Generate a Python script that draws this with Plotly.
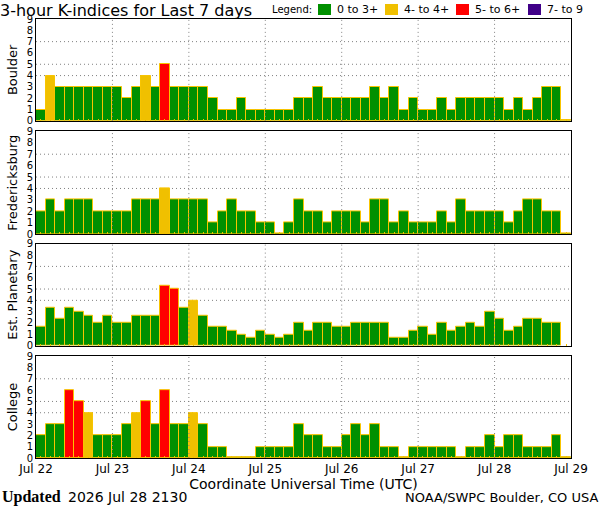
import pandas as pd
import plotly.graph_objects as go
from plotly.subplots import make_subplots

# K-index a cada 3 horas, 22 a 28 de julho (8 valores por dia)
estacoes = ["Boulder", "Fredericksburg", "Est. Planetary", "College"]

boulder = [1, 4, 3, 3, 3, 3, 3, 3, 3, 2, 3, 4, 3, 5, 3, 3,
           3, 3, 2, 1, 1, 2, 1, 1, 1, 1, 1, 2, 2, 3, 2, 2,
           2, 2, 2, 3, 2, 3, 1, 2, 1, 1, 2, 1, 2, 2, 2, 2,
           2, 1, 2, 1, 2, 3, 3, 0]

fredericksburg = [2, 3, 2, 3, 3, 3, 2, 2, 2, 2, 3, 3, 3, 4, 3, 3,
                  3, 3, 1, 2, 3, 2, 2, 1, 1, 0, 1, 3, 2, 2, 1, 2,
                  2, 2, 1, 3, 3, 1, 2, 1, 1, 1, 2, 1, 3, 2, 2, 2,
                  2, 1, 2, 3, 3, 2, 2, 0]

planetario = [1.67, 3.33, 2.33, 3.33, 3.0, 2.67, 2.0, 2.67,
              2.0, 2.0, 2.67, 2.67, 2.67, 5.33, 5.0, 3.33,
              4.0, 2.67, 1.67, 1.67, 1.33, 1.0, 0.67, 1.33,
              1.0, 0.67, 1.0, 2.0, 1.33, 2.0, 2.0, 1.67,
              1.67, 2.0, 2.0, 2.0, 2.0, 0.67, 0.67, 1.33,
              1.67, 1.0, 2.0, 1.33, 1.67, 2.0, 1.67, 3.0,
              2.33, 1.33, 1.67, 2.33, 2.33, 2.0, 2.0, None]

college = [2, 3, 3, 6, 5, 4, 2, 2, 2, 3, 4, 5, 3, 6, 3, 3,
           4, 3, 1, 1, 0, 0, 0, 1, 1, 1, 1, 3, 2, 2, 1, 1,
           2, 3, 2, 3, 1, 1, 0, 1, 1, 1, 1, 1, 0, 1, 1, 2,
           1, 2, 2, 1, 1, 1, 2, 0]

dias = ["Jul 22", "Jul 23", "Jul 24", "Jul 25", "Jul 26", "Jul 27", "Jul 28", "Jul 29"]

legenda_txt = ["0 to 3+", "4- to 4+", "5- to 6+", "7- to 9"]
legenda_cor = ["#009000", "#f0c000", "#ff0000", "#400088"]

series = [boulder, fredericksburg, planetario, college]

inicio = pd.Timestamp("2026-07-22")
horarios = pd.date_range(inicio, periods=56, freq="3h") + pd.Timedelta(minutes=90)
dias_pos = pd.date_range(inicio, periods=8, freq="D")
largura = 3 * 3600 * 1000


def cor_k(v):
    if v is None or v < 3.5:
        return legenda_cor[0]
    if v < 4.5:
        return legenda_cor[1]
    if v < 6.5:
        return legenda_cor[2]
    return legenda_cor[3]


# o grafico original desenha K=0 como uma fatia fina
def altura(v):
    if v is None:
        return None
    return max(v, 0.1)


# conversao de pixels para coordenadas do papel
L, R, T, B = 36, 29, 19, 52
W, H = 600, 510


def px_x(p):
    return (p - L) / (W - L - R)


def px_y(p):
    return (H - B - p) / (H - T - B)


fig = make_subplots(rows=4, cols=1, shared_xaxes=True)

dominios = [[0.768, 1.0], [0.51, 0.744], [0.256, 0.488], [0.0, 0.232]]
pontilhado = dict(color="#808080", width=1, dash="1px,3px")

for i, (nome, valores) in enumerate(zip(estacoes, series)):
    linha = i + 1
    fig.add_trace(
        go.Bar(
            x=horarios,
            y=[altura(v) for v in valores],
            customdata=valores,
            width=largura,
            marker_color=[cor_k(v) for v in valores],
            marker_line=dict(color="#f8c400", width=1),
            showlegend=False,
            hovertemplate=nome + " %{x}<br>K=%{customdata}<extra></extra>",
        ),
        row=linha, col=1,
    )
    for nivel in [4, 5, 7]:
        fig.add_hline(y=nivel, line=pontilhado, layer="below", row=linha, col=1)
    for d in dias_pos[1:-1]:
        fig.add_vline(x=d, line=pontilhado, layer="above", row=linha, col=1)

    fig.update_yaxes(
        domain=dominios[i],
        range=[0, 9],
        tickvals=list(range(10)),
        ticks="",
        showgrid=False,
        zeroline=False,
        automargin=False,
        showline=True, mirror=True, linecolor="black", linewidth=1,
        tickfont=dict(size=10),
        title=dict(text=nome, font=dict(size=13), standoff=6),
        row=linha, col=1,
    )
    fig.update_xaxes(
        range=[dias_pos[0], dias_pos[-1]],
        tickvals=dias_pos,
        ticktext=dias,
        ticks="",
        showticklabels=(linha == 4),
        showgrid=False,
        zeroline=False,
        automargin=False,
        showline=True, mirror=True, linecolor="black", linewidth=1,
        minor=dict(ticks="inside", ticklen=2, tickcolor="#f0c000",
                   tick0=horarios[0], dtick=largura),
        tickfont=dict(size=12),
        row=linha, col=1,
    )

fig.update_xaxes(title=dict(text="Coordinate Universal Time (UTC)", font=dict(size=14), standoff=2),
                 row=4, col=1)

anotacoes = [
    dict(text="Legend:", x=px_x(270), y=px_y(10), xanchor="left", font=dict(size=10)),
    dict(text="<b>Updated</b>", x=px_x(0), y=px_y(497), xanchor="left",
         font=dict(size=16, family="Liberation Serif")),
    dict(text="2026 Jul 28 2130", x=px_x(66), y=px_y(497), xanchor="left", font=dict(size=14)),
    dict(text="NOAA/SWPC Boulder, CO USA", x=px_x(600), y=px_y(497), xanchor="right",
         font=dict(size=13)),
]

# legenda desenhada a mao, igual ao original
quadrados = [318, 385, 456, 528]
for xq, txt, cor in zip(quadrados, legenda_txt, legenda_cor):
    fig.add_shape(type="rect", xref="paper", yref="paper",
                  x0=px_x(xq), x1=px_x(xq + 13), y0=px_y(15), y1=px_y(4),
                  fillcolor=cor, line=dict(width=0))
    anotacoes.append(dict(text=txt, x=px_x(xq + 17), y=px_y(10), xanchor="left",
                          font=dict(size=11)))

for a in anotacoes:
    a.update(xref="paper", yref="paper", showarrow=False, yanchor="middle")

fig.update_layout(
    width=W, height=H,
    margin=dict(l=L, r=R, t=T, b=B),
    title=dict(text="3-hour K-indices for Last 7 days", x=0, xref="container",
               xanchor="left", y=0.99, yref="container", yanchor="top",
               font=dict(size=16)),
    annotations=anotacoes,
    bargap=0,
    plot_bgcolor="rgba(0,0,0,0)",
    paper_bgcolor="white",
    font=dict(family="DejaVu Sans", size=12, color="black"),
)

# tira a margem padrao da pagina para o grafico ocupar a janela toda
fig.write_html("out.html", config={"displayModeBar": False},
               post_script="document.body.style.margin='0';")
